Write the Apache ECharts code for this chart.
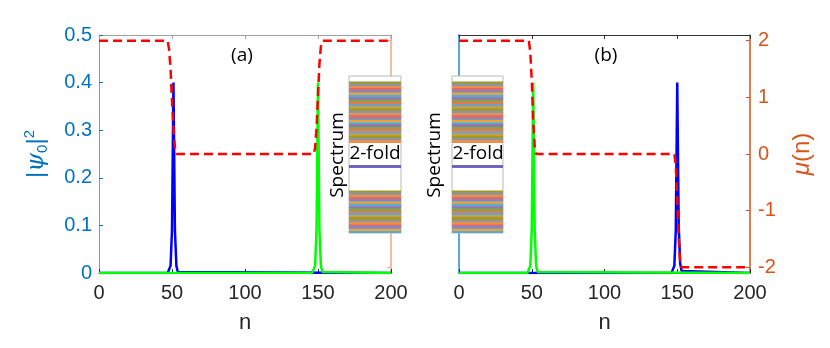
<!DOCTYPE html>
<html>
<head>
<meta charset="utf-8">
<script src="https://cdn.jsdelivr.net/npm/echarts@6/dist/echarts.min.js"></script>
<style>
  html, body { margin: 0; padding: 0; background: #fff; }
  #chart { width: 830px; height: 348px; }
</style>
</head>
<body>
<div id="chart"></div>
<script>
// |psi_0|^2 profiles, [n, value]
const blueA = [[0,0],[47,0],[48,0.002],[49,0.015],[50,0.09],[51,0.40],[52,0.09],[53,0.015],[54,0.002],[55,0],[200,0]];
const greenA = [[0,0],[146,0],[147,0.002],[148,0.015],[149,0.09],[150,0.40],[151,0.09],[152,0.015],[153,0.002],[154,0],[200,0]];
const blueB = [[0,0],[146,0],[147,0.002],[148,0.015],[149,0.09],[150,0.40],[151,0.10],[152,0.02],[153,0.004],[154,0],[200,0]];
const greenB = [[0,0],[47,0],[48,0.002],[49,0.015],[50,0.09],[51,0.40],[52,0.09],[53,0.015],[54,0.002],[55,0],[200,0]];

// mu(n) profiles, [n, mu]
const muA = [[0,2],[47,2],[48,1.85],[49,1.5],[50,0.95],[51,0.45],[52,0.12],[53,0],[147,0],[148,0.1],[149,0.45],[150,1.05],[151,1.6],[152,1.9],[153,2],[200,2]];
const muB = [[0,2],[48,2],[49,1.8],[50,1.3],[51,0.6],[52,0.15],[53,0],[148,0],[149,-0.2],[150,-0.8],[151,-1.5],[152,-1.9],[153,-2],[200,-2]];

// spectrum insets (energies)
const upperBand = [2.77,2.7,2.62,2.55,2.47,2.4,2.33,2.25,2.17,2.1,2.02,1.95,1.87,1.8,1.72,1.65,1.57,1.5,1.42,1.35,1.27,1.2,1.12,1.05,0.97,0.9,0.83];
const lowerBand = [-0.84,-0.91,-0.98,-1.06,-1.13,-1.21,-1.28,-1.36,-1.43,-1.51,-1.58,-1.66,-1.73,-1.81,-1.88,-1.96,-2.03,-2.11,-2.18,-2.26];
const zeroModes = [0, 0];

const muTicks = [-2,-1,0,1,2];

const bandColors = ['#a09a20','#8a96a8','#e8904a','#e06a6a','#7a8ad0','#e8a830','#5aa8d8','#9a70b0','#7aa84a','#e87848','#6fa0c8','#c8a040'];
const BLUE_AX = '#0072BD', ORANGE_AX = '#D95319', DARK = '#262626';
const tickFont = { fontFamily: 'Liberation Sans', fontSize: 20 };

const chart = echarts.init(document.getElementById('chart'));

function lineSeries(data, xi, yi, color, dashed) {
  return {
    type: 'line', data: data, xAxisIndex: xi, yAxisIndex: yi,
    showSymbol: false, symbol: 'none', animation: false, z: 3,
    lineStyle: { color: color, width: 2.5, type: dashed ? [9, 5] : 'solid' }
  };
}

function levelSeries(levels, xi, yi, fixedColor, h) {
  return {
    type: 'custom', xAxisIndex: xi, yAxisIndex: yi, z: 6, clip: true, animation: false,
    data: levels.map(e => [e]),
    renderItem: function (params, api) {
      const p0 = api.coord([0, api.value(0)]);
      const p1 = api.coord([1, api.value(0)]);
      return {
        type: 'rect',
        shape: { x: p0[0], y: p0[1] - h / 2, width: p1[0] - p0[0], height: h },
        style: { fill: fixedColor || bandColors[params.dataIndex % bandColors.length] }
      };
    }
  };
}

function nAxis(gi, pos, lineColor, showLabel) {
  return {
    type: 'value', gridIndex: gi, position: pos, min: 0, max: 200, interval: 50,
    axisLine: { show: true, onZero: false, lineStyle: { color: lineColor, width: 1 } },
    axisTick: { show: true, inside: true, length: 4, lineStyle: { color: lineColor } },
    axisLabel: showLabel ? Object.assign({ color: DARK, margin: 10 }, tickFont) : { show: false },
    splitLine: { show: false },
    name: showLabel ? 'n' : '', nameLocation: 'middle', nameGap: 39,
    nameTextStyle: { color: DARK, fontFamily: 'Liberation Sans', fontSize: 22 }
  };
}

function psiAxis(gi, showLabel, lineWidth) {
  return {
    type: 'value', gridIndex: gi, position: 'left', min: 0, max: 0.5, interval: 0.1,
    axisLine: { show: true, onZero: false, lineStyle: { color: '#5aa8dc', width: lineWidth } },
    axisTick: { show: showLabel, inside: true, length: 4, lineStyle: { color: BLUE_AX } },
    axisLabel: showLabel ? Object.assign({ color: BLUE_AX, margin: 7, formatter: v => v === 0 ? '0' : v.toFixed(1) }, tickFont) : { show: false },
    splitLine: { show: false },
    name: showLabel ? '|{i|ψ}{s|0}|{p|2}' : '', nameLocation: 'middle', nameGap: 48, nameRotate: 90,
    nameTextStyle: {
      color: BLUE_AX, fontFamily: 'Liberation Sans', fontSize: 24,
      rich: {
        i: { fontStyle: 'italic', fontFamily: 'DejaVu Serif', fontSize: 24, color: BLUE_AX },
        s: { fontSize: 15, color: BLUE_AX, padding: [12, 0, 0, 0] },
        p: { fontSize: 15, color: BLUE_AX, padding: [0, 0, 14, 0] }
      }
    }
  };
}

function muAxis(gi, showLabel, lineColor) {
  return {
    type: 'value', gridIndex: gi, position: 'right', min: -2.1, max: 2.1,
    axisLine: { show: true, onZero: false, lineStyle: { color: lineColor, width: 1.5 } },
    axisTick: { show: true, inside: true, length: 4, customValues: muTicks, lineStyle: { color: lineColor } },
    axisLabel: showLabel ? Object.assign({ color: ORANGE_AX, margin: 8, customValues: muTicks }, tickFont) : { show: false },
    splitLine: { show: false },
    name: showLabel ? '{i|μ}(n)' : '', nameLocation: 'middle', nameGap: 40, nameRotate: 90,
    nameTextStyle: {
      color: ORANGE_AX, fontFamily: 'Liberation Sans', fontSize: 24,
      rich: { i: { fontStyle: 'italic', fontFamily: 'Liberation Sans', fontSize: 24, color: ORANGE_AX } }
    }
  };
}

function insetAxisX(gi) {
  return { type: 'value', gridIndex: gi, min: 0, max: 1, show: false };
}
function insetAxisY(gi) {
  return { type: 'value', gridIndex: gi, min: -2.2, max: 3.0, show: false };
}

const insets = [
  { left: 349, top: 76, width: 52, height: 157 },
  { left: 452, top: 76, width: 51, height: 157 }
];

function textEl(str, x, y, rot) {
  return {
    type: 'text', x: x, y: y, rotation: rot || 0, z: 20,
    style: { text: str, fill: '#000', font: '19px "Open Sans"', align: 'center', verticalAlign: 'middle' }
  };
}

const option = {
  backgroundColor: '#fff',
  animation: false,
  grid: [
    { left: 99, top: 35, width: 292, height: 238 },
    { left: 459, top: 35, width: 291, height: 238 },
    Object.assign({}, insets[0]),
    Object.assign({}, insets[1])
  ],
  xAxis: [
    nAxis(0, 'bottom', DARK, true),
    nAxis(0, 'top', '#a0a0a0', false),
    nAxis(1, 'bottom', DARK, true),
    nAxis(1, 'top', '#333333', false),
    insetAxisX(2),
    insetAxisX(3)
  ],
  yAxis: [
    psiAxis(0, true, 1),
    muAxis(0, false, '#e8a888'),
    psiAxis(1, false, 2),
    muAxis(1, true, ORANGE_AX),
    insetAxisY(2),
    insetAxisY(3)
  ],
  graphic: [
    { type: 'rect', z: 5, shape: { x: insets[0].left, y: insets[0].top, width: insets[0].width, height: insets[0].height },
      style: { fill: '#fff', stroke: '#b8b8b8', lineWidth: 1 } },
    { type: 'rect', z: 5, shape: { x: insets[1].left, y: insets[1].top, width: insets[1].width, height: insets[1].height },
      style: { fill: '#fff', stroke: '#b8b8b8', lineWidth: 1 } },
    textEl('(a)', 242, 56),
    textEl('(b)', 606, 56),
    textEl('Spectrum', 338, 155, Math.PI / 2),
    textEl('Spectrum', 435, 155, Math.PI / 2),
    textEl('2-fold', 375, 154),
    textEl('2-fold', 478, 154)
  ],
  series: [
    lineSeries(blueA, 0, 0, '#0000ff'),
    lineSeries(greenA, 0, 0, '#00ff00'),
    lineSeries(muA, 0, 1, '#ff0000', true),
    lineSeries(blueB, 2, 2, '#0000ff'),
    lineSeries(greenB, 2, 2, '#00ff00'),
    lineSeries(muB, 2, 3, '#ff0000', true),
    levelSeries(upperBand, 4, 4, null, 3),
    levelSeries(lowerBand, 4, 4, null, 3),
    levelSeries(zeroModes, 4, 4, '#6a5fc0', 2.5),
    levelSeries(upperBand, 5, 5, null, 3),
    levelSeries(lowerBand, 5, 5, null, 3),
    levelSeries(zeroModes, 5, 5, '#6a5fc0', 2.5)
  ]
};

chart.setOption(option);
</script>
</body>
</html>
